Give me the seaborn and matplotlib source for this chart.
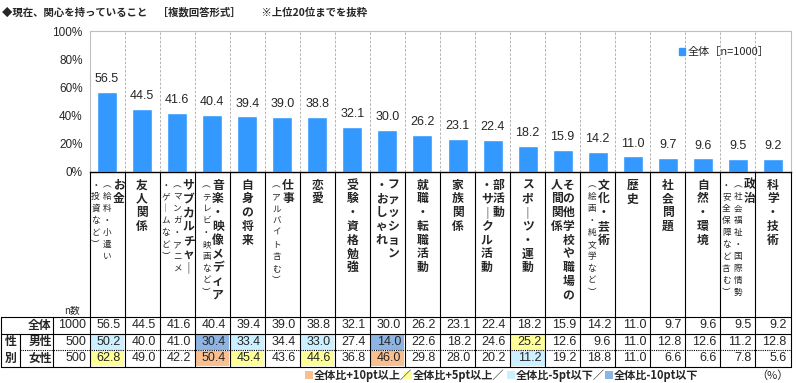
import numpy as np
import pandas as pd
import matplotlib
matplotlib.use("Agg")
import matplotlib.pyplot as plt
import seaborn as sns
from matplotlib.patches import Rectangle

# ---------------- data ----------------
categories = ["お金（給料・小遣い・投資など）", "友人関係", "サブカルチャー（マンガ・アニメ・ゲームなど）",
              "音楽・映像メディア（テレビ・映画など）", "自身の将来", "仕事（アルバイト含む）", "恋愛",
              "受験・資格勉強", "ファッション・おしゃれ", "就職・転職活動", "家族関係", "部活動・サークル活動",
              "スポーツ・運動", "その他学校や職場の人間関係", "文化・芸術（絵画・純文学など）", "歴史",
              "社会問題", "自然・環境", "政治（社会福祉・国際情勢・安全保障など含む）", "科学・技術"]

# vertical label columns, right-to-left; "M" = main size, "S" = small size
label_columns = [
    [("お金", "M"), ("（給料・小遣い", "S"), ("・投資など）", "S")],
    [("友人関係", "M")],
    [("サブカルチャー", "M"), ("（マンガ・アニメ", "S"), ("・ゲームなど）", "S")],
    [("音楽・映像メディア", "M"), ("（テレビ・映画など）", "S")],
    [("自身の将来", "M")],
    [("仕事", "M"), ("（アルバイト含む）", "S")],
    [("恋愛", "M")],
    [("受験・資格勉強", "M")],
    [("ファッション", "M"), ("・おしゃれ", "M")],
    [("就職・転職活動", "M")],
    [("家族関係", "M")],
    [("部活動", "M"), ("・サークル活動", "M")],
    [("スポーツ・運動", "M")],
    [("その他学校や職場の", "M"), ("人間関係", "M")],
    [("文化・芸術", "M"), ("（絵画・純文学など）", "S")],
    [("歴史", "M")],
    [("社会問題", "M")],
    [("自然・環境", "M")],
    [("政治", "M"), ("（社会福祉・国際情勢", "S"), ("・安全保障など含む）", "S")],
    [("科学・技術", "M")],
]

total = [56.5, 44.5, 41.6, 40.4, 39.4, 39.0, 38.8, 32.1, 30.0, 26.2,
         23.1, 22.4, 18.2, 15.9, 14.2, 11.0, 9.7, 9.6, 9.5, 9.2]
male = [50.2, 40.0, 41.0, 30.4, 33.4, 34.4, 33.0, 27.4, 14.0, 22.6,
        18.2, 24.6, 25.2, 12.6, 9.6, 11.0, 12.8, 12.6, 11.2, 12.8]
female = [62.8, 49.0, 42.2, 50.4, 45.4, 43.6, 44.6, 36.8, 46.0, 29.8,
          28.0, 20.2, 11.2, 19.2, 18.8, 11.0, 6.6, 6.6, 7.8, 5.6]
row_labels = ["全体", "男性", "女性"]
row_n = [1000, 500, 500]
yticks = [0, 20, 40, 60, 80, 100]
title = "◆現在、関心を持っていること　［複数回答形式］　　※上位20位までを抜粋"
legend_label = "全体［n=1000］"
note_labels = ["全体比+10pt以上／", "全体比+5pt以上／", "全体比-5pt以下／", "全体比-10pt以下"]

# ---------------- style ----------------
sns.set_style("white")
JP = ["Noto Sans CJK JP", "DejaVu Sans"]
NUM = ["Liberation Sans", "DejaVu Sans"]
plt.rcParams["font.family"] = JP

BAR = "#3399FF"
C_P10, C_P5, C_M5, C_M10 = "#FABF8F", "#FFFF99", "#CCF0FF", "#8DB4E2"

W, H = 796, 383
fig = plt.figure(figsize=(W / 100, H / 100), dpi=100)
fig.patch.set_facecolor("white")

PX0, PX1 = 89.5, 790.5
PY_TOP, PY_BOT = 31, 172
ax = fig.add_axes([PX0 / W, 1 - PY_BOT / H, (PX1 - PX0) / W, (PY_BOT - PY_TOP) / H])

df = pd.DataFrame({"cat": categories, "val": total})
sns.barplot(data=df, x="cat", y="val", color=BAR, saturation=1, width=0.57, ax=ax)
ax.set_xlim(-0.5, len(categories) - 0.5)
ax.set_ylim(0, 100)
ax.set_xlabel("")
ax.set_ylabel("")
ax.set_xticks([])
ax.set_yticks(yticks)
ax.set_yticklabels([f"{t}%" for t in yticks], fontsize=8.5, family=NUM)
ax.tick_params(axis="y", length=0, pad=5)
for i in range(len(categories) - 1):
    ax.axvline(i + 0.5, color="#A6A6A6", lw=0.6, ls=(0, (3, 2)), zorder=0)
for s in ["left", "top", "right"]:
    ax.spines[s].set_color("#BFBFBF")
    ax.spines[s].set_linewidth(0.8)
ax.spines["bottom"].set_color("black")
ax.spines["bottom"].set_linewidth(1.0)
ax.bar_label(ax.containers[0], labels=[f"{v:.1f}" for v in total], padding=5,
             fontsize=9, family=NUM)
ax.legend(handles=[Rectangle((0, 0), 1, 1, color=BAR)], labels=[legend_label],
          loc="center left", bbox_to_anchor=(0.835, 0.85), frameon=False,
          handlelength=0.55, handleheight=0.55, handletextpad=0.2, fontsize=8,
          borderaxespad=0)

# ---------------- overlay (labels + table) ----------------
tx = fig.add_axes([0, 0, 1, 1])
tx.set_xlim(0, W)
tx.set_ylim(H, 0)
tx.axis("off")
tx.patch.set_visible(False)

ncol = len(categories)
colw = (PX1 - PX0) / ncol
T_TOP, R1, R2, T_BOT = 317, 333.5, 350, 366.5

tx.text(2, 12, title, fontsize=7.5, weight="bold", va="center", ha="left")

# column lines
for k in range(ncol + 1):
    x = PX0 + k * colw
    tx.plot([x, x], [PY_BOT, T_BOT], color="black", lw=0.8)
# table frame
tx.plot([1, 1], [T_TOP, T_BOT], color="black", lw=0.8)
tx.plot([53, 53], [T_TOP, T_BOT], color="black", lw=0.8)
tx.plot([20, 20], [R1, T_BOT], color="black", lw=0.8)
for y in (T_TOP, R1, T_BOT):
    tx.plot([1, PX1], [y, y], color="black", lw=0.8)
tx.plot([20, PX1], [R2, R2], color="black", lw=0.8, ls=(0, (1, 1)))

VMAP = {"（": "︵", "）": "︶", "ー": "｜"}

# vertical category labels
for i, cols in enumerate(label_columns):
    cx = PX0 + (i + 0.5) * colw
    m = len(cols)
    sp = 11.5
    for j, (txt, sz) in enumerate(cols):
        x = cx + ((m - 1) / 2 - j) * sp
        if sz == "M":
            fs, pitch, wt = 8.5, 13.8, "bold"
        else:
            fs, pitch, wt = 6.2, 11.9, "normal"
        for k, ch in enumerate(txt):
            tx.text(x, 185 + k * pitch, VMAP.get(ch, ch), fontsize=fs, weight=wt,
                    ha="center", va="center")

# table header
tx.text(72, 310, "n数", fontsize=7, ha="center", va="center")
row_y = [(T_TOP + R1) / 2, (R1 + R2) / 2, (R2 + T_BOT) / 2]
for lab, y in zip(row_labels, row_y):
    tx.text(40, y, lab, fontsize=8.5, weight="bold", ha="center", va="center")
tx.text(10.5, row_y[1], "性", fontsize=8.5, weight="bold", ha="center", va="center")
tx.text(10.5, row_y[2], "別", fontsize=8.5, weight="bold", ha="center", va="center")
for nv, y in zip(row_n, row_y):
    tx.text(86.5, y, str(nv), fontsize=9, family=NUM, ha="right", va="center")


def cell_color(v, base):
    d = round(v - base, 1)
    if d >= 10:
        return C_P10
    if d >= 5:
        return C_P5
    if d <= -10:
        return C_M10
    if d <= -5:
        return C_M5
    return None


rows = [total, male, female]
bounds = [(T_TOP, R1), (R1, R2), (R2, T_BOT)]
for r, vals in enumerate(rows):
    y0, y1 = bounds[r]
    for i, v in enumerate(vals):
        xl = PX0 + i * colw
        if r > 0:
            c = cell_color(v, total[i])
            if c:
                tx.add_patch(Rectangle((xl + 0.5, y0 + 0.5), colw - 1, y1 - y0 - 1,
                                       facecolor=c, edgecolor="none", zorder=0))
        tx.text(xl + colw - 4, (y0 + y1) / 2, f"{v:.1f}", fontsize=9, family=NUM,
                ha="right", va="center")

# bottom legend
note_x = [305, 404, 507, 605]
note_c = [C_P10, C_P5, C_M5, C_M10]
for x, c, lab in zip(note_x, note_c, note_labels):
    tx.add_patch(Rectangle((x, 371), 8, 8, facecolor=c, edgecolor="none"))
    tx.text(x + 9, 375.5, lab, fontsize=8, weight="bold", ha="left", va="center")
tx.text(789, 375.5, "（%）", fontsize=8, ha="right", va="center")

fig.savefig("out.png", dpi=100)
